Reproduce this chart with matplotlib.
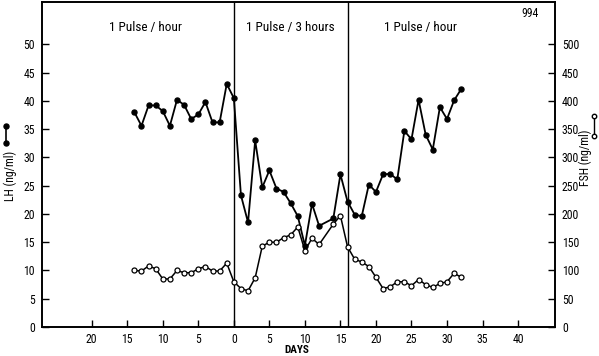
import matplotlib
matplotlib.use("Agg")
import matplotlib.pyplot as plt
from matplotlib import font_manager
from matplotlib.lines import Line2D
from matplotlib.ticker import FuncFormatter

# ---- data (days relative to start of the 1 pulse / 3 hours period) ----
lh_days = [-14, -13, -12, -11, -10, -9, -8, -7, -6, -5, -4, -3, -2, -1, 0,
           1, 2, 3, 4, 5, 6, 7, 8, 9, 10, 11, 12, 14, 15,
           16, 17, 18, 19, 20, 21, 22, 23, 24, 25, 26, 27, 28, 29, 30, 31, 32]
lh_vals = [38.0, 35.6, 39.2, 39.2, 38.2, 35.6, 40.2, 39.3, 36.8, 37.6, 39.8, 36.2, 36.2, 43.0, 40.5,
           23.3, 18.5, 33.0, 24.7, 27.7, 24.5, 23.9, 21.9, 19.6, 14.4, 21.8, 17.9, 19.2, 27.0,
           22.2, 19.9, 19.6, 25.2, 23.9, 27.0, 27.1, 26.1, 34.7, 33.2, 40.2, 34.0, 31.4, 38.9, 36.8, 40.1, 42.1]

fsh_days = lh_days
fsh_vals = [100, 99, 108, 103, 85, 85, 100, 96, 96, 103, 107, 99, 99, 113, 80,
            68, 64, 87, 143, 150, 150, 158, 163, 177, 135, 157, 146, 182, 197,
            142, 120, 115, 107, 88, 68, 71, 80, 80, 73, 84, 75, 70, 77, 80, 95, 88]

phase_bounds = [0, 16]
phase_labels = ["1 Pulse / hour", "1 Pulse / 3 hours", "1 Pulse / hour"]
phase_label_x = [-12.5, 8, 26.2]

x_ticks = [-20, -15, -10, -5, 0, 5, 10, 15, 20, 25, 30, 35, 40]
lh_ticks = list(range(0, 55, 5))
fsh_ticks = list(range(0, 550, 50))

# narrow face if there is one, the picture uses tall narrow digits
family = 'DejaVu Sans'
for cand in ['Liberation Sans Narrow', 'Roboto Condensed', 'DejaVu Sans Condensed']:
    try:
        font_manager.findfont(cand, fallback_to_default=False)
        family = cand
        break
    except ValueError:
        pass

plt.rcParams.update({
    'font.family': family,
    'font.size': 8.5,
})

fig = plt.figure(figsize=(5.99, 3.56), dpi=100)
ax = fig.add_axes([42 / 599, 29 / 356, (555 - 42) / 599, (327 - 2) / 356])
ax2 = ax.twinx()

ax.plot(lh_days, lh_vals, color='black', lw=1.3, marker='o', ms=3.6,
        mfc='black', mec='black', zorder=3)
ax2.plot(fsh_days, fsh_vals, color='black', lw=1.1, marker='o', ms=3.6,
         mfc='white', mec='black', mew=0.9, zorder=3)

for b in phase_bounds:
    ax.axvline(b, color='black', lw=1.0, zorder=2)

ax.set_xlim(-27, 45.2)
ax.set_ylim(0, 57.5)
ax2.set_ylim(0, 575)

ax.set_xticks(x_ticks)
ax.xaxis.set_major_formatter(FuncFormatter(lambda v, p: f"{abs(int(v))}"))
ax.set_yticks(lh_ticks)
ax2.set_yticks(fsh_ticks)

ax.tick_params(axis='x', direction='in', length=5, width=1, pad=4, top=False)
ax.tick_params(axis='y', direction='in', length=5, width=1, pad=5)
ax2.tick_params(axis='y', direction='in', length=5, width=1, pad=5)

for a in (ax, ax2):
    for s in a.spines.values():
        s.set_linewidth(1.2)

for txt, xx in zip(phase_labels, phase_label_x):
    ax.text(xx, 52.9, txt, ha='center', va='center', fontsize=9.5)
ax.text(41.7, 55.4, "994", ha='center', va='center', fontsize=8.5)

# axis titles with their symbol keys
fig.text(297 / 599, 1 - 350 / 356, "DAYS", ha='center', va='center',
         fontsize=8, fontweight='bold')
fig.text(10 / 599, 1 - 176 / 356, "LH (ng/ml)", rotation=90,
         ha='center', va='center', fontsize=8.5)
fig.text(585 / 599, 1 - 158 / 356, "FSH (ng/ml)", rotation=90,
         ha='center', va='center', fontsize=8.5)
fig.add_artist(Line2D([6 / 599, 6 / 599], [1 - 126 / 356, 1 - 143 / 356],
                      color='black', lw=1.2, marker='o', ms=3.6, mfc='black'))
fig.add_artist(Line2D([594 / 599, 594 / 599], [1 - 116 / 356, 1 - 136 / 356],
                      color='black', lw=1.0, marker='o', ms=3.2, mfc='white'))

plt.savefig("out.png", dpi=100)
